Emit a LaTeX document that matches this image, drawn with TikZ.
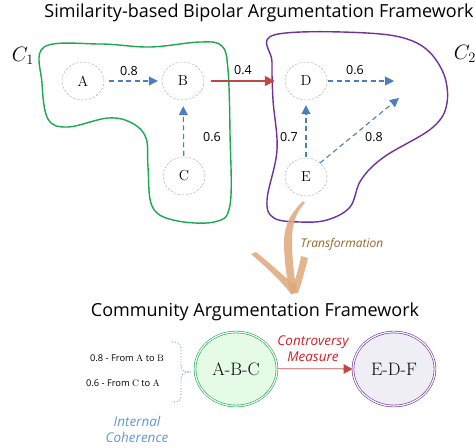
\documentclass[tikz,border=0pt]{standalone}
\usepackage{fontspec}
\newfontfamily\sansf{Open Sans}
\usetikzlibrary{arrows.meta,shapes.geometric}
\definecolor{blobgreen}{RGB}{28,168,78}
\definecolor{blobpurple}{RGB}{112,48,160}
\definecolor{supblue}{RGB}{74,126,192}
\definecolor{attred}{RGB}{192,72,68}
\definecolor{tan}{RGB}{221,168,122}
\definecolor{tanText}{RGB}{150,100,40}
\definecolor{contred}{RGB}{212,30,40}
\definecolor{cohblue}{RGB}{96,150,220}
\definecolor{lgreen}{RGB}{229,251,229}
\definecolor{lpurple}{RGB}{239,238,245}
\begin{document}
\begin{tikzpicture}[x=1pt,y=-1pt,
  argnode/.style={ellipse, draw=gray!70, dashed, dash pattern=on 2.5pt off 1.5pt, minimum width=42pt, minimum height=38pt, inner sep=0pt, font=\fontsize{14.5}{16}\selectfont},
  suparrow/.style={draw=supblue, line width=1.1pt, dash pattern=on 5pt off 3.5pt, -{Triangle[length=9pt,width=9pt]}},
  wlab/.style={font=\sansf\fontsize{12.5}{14}\selectfont},
  titlelab/.style={font=\sansf\fontsize{18}{20}\selectfont},
  commnode/.style={ellipse, double, double distance=1.2pt, line width=0.6pt, minimum width=82pt, minimum height=74pt, inner sep=0pt, font=\fontsize{18}{20}\selectfont},
  blob/.style={line width=1.4pt},
  cohline/.style={cohblue, line width=0.9pt, dotted},
]
\useasboundingbox (0,0) rectangle (475,448);

% title
\node[titlelab] (t1) at (259,13) {Similarity-based Bipolar Argumentation Framework};

% blobs
\draw[blob, blobgreen] plot[smooth cycle, tension=0.6] coordinates {
  (44,47) (100,44) (150,47) (200,42) (222,46) (228,70) (230,133) (230,205)
  (214,222) (173,220) (152,206) (148,167) (146,138) (132,123) (108,118)
  (68,127) (48,119) (42,83)};
\draw[blob, blobpurple] plot[smooth cycle, tension=0.6] coordinates {
  (274,35) (367,33) (417,43) (442,70) (447,103) (432,128) (384,157)
  (361,180) (350,207) (327,220) (300,222) (274,218) (267,200)
  (277,150) (273,100) (272,62)};

\node[font=\fontsize{20}{22}\selectfont] (c1) at (23,56) {$C_1$};
\node[font=\fontsize{20}{22}\selectfont] (c2) at (465,54) {$C_2$};

% argument nodes
\node[argnode] (A) at (83,81) {A};
\node[argnode] (B) at (183,81) {B};
\node[argnode] (C) at (184,176) {C};
\node[argnode] (D) at (306,81) {D};
\node[argnode] (E) at (306,177) {E};
\coordinate (Dt) at (394,81);
\coordinate (Et) at (399,98);
\coordinate (Es) at (320,163);

\draw[suparrow, shorten <=5pt, shorten >=4pt] (A) -- (B);
\draw[suparrow, shorten <=1pt, shorten >=6pt] (C) -- (B);
\draw[suparrow, shorten <=1pt] (D) -- (Dt);
\draw[suparrow, shorten <=1pt, shorten >=5pt] (E) -- (D);
\draw[suparrow] (Es) -- (Et);
\draw[attred, line width=1.6pt, -{Triangle[length=10pt,width=10pt]}, shorten <=7pt, shorten >=10pt] (B) -- (D);

\node[wlab] (l1) at (129,71) {0.8};
\node[wlab] (l2) at (243,70) {0.4};
\node[wlab] (l3) at (355,70) {0.6};
\node[wlab] (l4) at (212,137) {0.6};
\node[wlab] (l5) at (289,137) {0.7};
\node[wlab] (l6) at (374,137) {0.8};

% transformation swoosh
\fill[tan, opacity=0.85] (303,201) .. controls (292,212) and (285,222) .. (284,240)
   .. controls (284,258) and (286,278) .. (291,294)
   -- (297,293) .. controls (294,276) and (292,258) .. (292,240)
   .. controls (292,224) and (296,212) .. (305,203) -- cycle;
\fill[tan, opacity=0.85] (251,254) -- (256,252) .. controls (272,265) and (285,277) .. (297,287) -- (292,295) .. controls (280,280) and (265,266) .. cycle;
\fill[tan, opacity=0.85] (301,256) -- (308,258) .. controls (305,270) and (302,282) .. (298,293) -- (291,292) .. controls (295,280) and (299,268) .. cycle;
\node[font=\sansf\itshape\fontsize{12}{14}\selectfont, text=tanText] (tr) at (342,244) {Transformation};

% community framework
\node[titlelab] (t2) at (255,312) {Community Argumentation Framework};
\node[commnode, draw=blobgreen, fill=lgreen] (ABC) at (236,369) {A-B-C};
\node[commnode, draw=blobpurple, fill=lpurple] (EDF) at (394,369) {E-D-F};
\draw[attred!60, line width=2.4pt, -{Triangle[length=9pt,width=9pt,color=attred]}] (ABC) -- (EDF);
\draw[attred!18, line width=0.9pt, shorten >=10pt] (ABC) -- (EDF);
\node[font=\sansf\itshape\fontsize{13.5}{16}\selectfont, text=contred, align=center] (cm) at (313,349) {Controversy\\Measure};

\node[font=\sansf\fontsize{9.3}{11}\selectfont] (r1) at (127,358) {0.8 - From $\mathrm{A}$ to $\mathrm{B}$};
\node[font=\sansf\fontsize{9.3}{11}\selectfont] (r2) at (123,383) {0.6 - From $\mathrm{C}$ to $\mathrm{A}$};
\coordinate (bt) at (172,342);
\coordinate (bm) at (191,372);
\coordinate (bb) at (172,402);
\draw[cohline] (bt) .. controls (180,342) and (181,344) .. (181,350) -- (181,364)
   .. controls (181,370) and (183,372) .. (bm);
\draw[cohline] (bm) .. controls (183,372) and (181,374) .. (181,380) -- (181,394)
   .. controls (181,400) and (180,402) .. (bb);
\node[font=\sansf\itshape\fontsize{13.5}{16}\selectfont, text=cohblue, align=center] (ic) at (137,429) {Internal\\Coherence};
\end{tikzpicture}
\end{document}
